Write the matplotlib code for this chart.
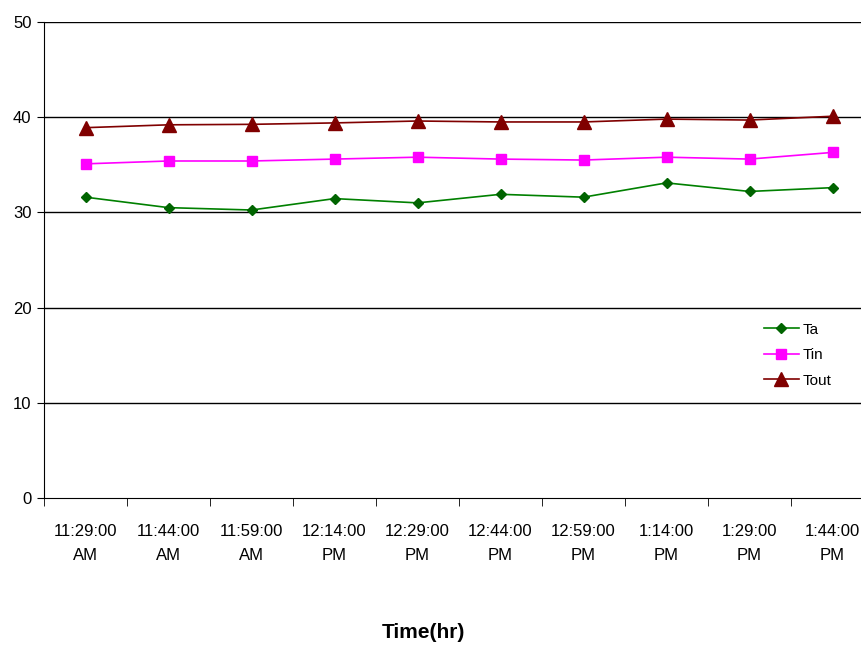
import matplotlib
matplotlib.use("Agg")
import matplotlib.pyplot as plt
import numpy as np

plt.rcParams['font.family'] = ['Liberation Sans', 'DejaVu Sans']

times = ["11:29:00\nAM", "11:44:00\nAM", "11:59:00\nAM", "12:14:00\nPM", "12:29:00\nPM",
         "12:44:00\nPM", "12:59:00\nPM", "1:14:00\nPM", "1:29:00\nPM", "1:44:00\nPM"]
ta = [31.6, 30.5, 30.25, 31.45, 31.0, 31.9, 31.6, 33.1, 32.2, 32.6]
tin = [35.1, 35.4, 35.4, 35.6, 35.8, 35.6, 35.5, 35.8, 35.6, 36.3]
tout = [38.9, 39.2, 39.25, 39.4, 39.6, 39.5, 39.5, 39.8, 39.7, 40.1]
yticks = [0, 10, 20, 30, 40, 50]

fig = plt.figure(figsize=(8.62, 6.46), dpi=100)
ax = fig.add_axes([44/862, 148/646, 830/862, 476/646])
x = np.arange(len(times))

ax.plot(x, ta, color='#008000', marker='D', markersize=5, markerfacecolor='#006400',
        markeredgecolor='#006400', linewidth=1.2, label='Ta')
ax.plot(x, tin, color='#FF00FF', marker='s', markersize=7, linewidth=1.2, label='Tin')
ax.plot(x, tout, color='#800000', marker='^', markersize=10, linewidth=1.2, label='Tout')

ax.set_xlim(-0.5, len(times) - 0.5)
ax.set_ylim(0, 50)
ax.set_yticks(yticks)
ax.set_yticklabels([str(v) for v in yticks], fontsize=12)
for v in yticks[1:]:
    ax.axhline(v, color='black', linewidth=1.0, zorder=0)

ax.set_xticks(x)
ax.set_xticklabels(times, fontsize=12, linespacing=1.75)
ax.tick_params(axis='x', which='major', length=0, pad=19)
ax.set_xticks(np.arange(len(times) + 1) - 0.5, minor=True)
ax.tick_params(axis='x', which='minor', length=6, color='black', direction='out')
ax.tick_params(axis='y', length=5, color='black', direction='out', pad=4)

ax.spines['top'].set_visible(False)
ax.spines['right'].set_visible(False)
ax.spines['left'].set_color('black')
ax.spines['bottom'].set_color('black')

leg = ax.legend(loc='upper left', frameon=False,
                fontsize=11, handlelength=2.3, labelspacing=0.75, handletextpad=0.25)
leg.set_bbox_to_anchor((750/862, (646-309)/646), transform=fig.transFigure)

fig.text(423/862, 1 - 632/646, "Time(hr)", ha='center', va='center', fontsize=15, fontweight='bold')

fig.savefig("out.png", dpi=100)
